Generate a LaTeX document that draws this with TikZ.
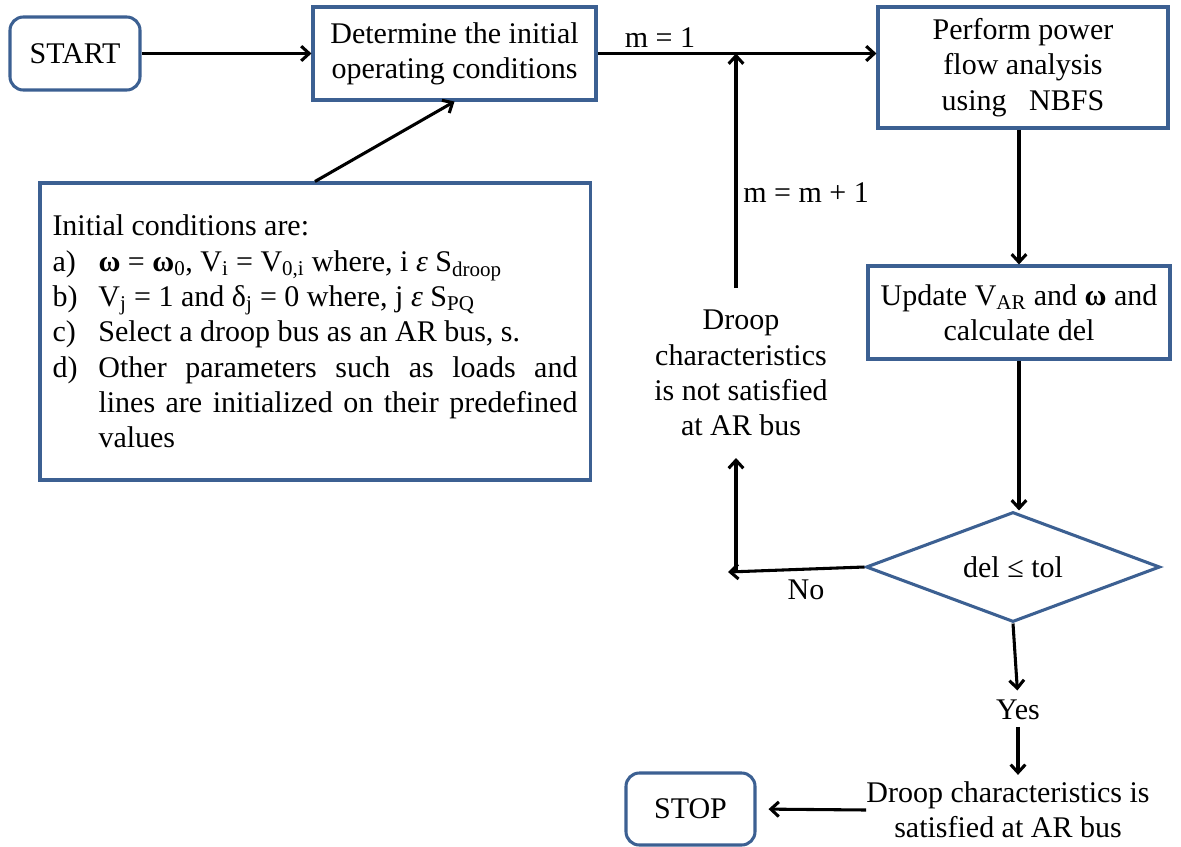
\documentclass[tikz,border=0pt]{standalone}
\usepackage{fontspec}
\setmainfont{Liberation Serif}
\usetikzlibrary{arrows.meta,shapes.geometric}
\definecolor{boxblue}{RGB}{60,96,146}
\newcommand\dfont{\fontsize{22.5}{26.5}\selectfont}
\newlength\itemind
\setlength\itemind{34.5pt}
\newcommand\itemlabel[1]{\hangindent=\itemind\hangafter=1\noindent\makebox[\itemind][l]{#1}}

\begin{document}
\begin{tikzpicture}[x=0.75pt,y=-0.75pt,
  every node/.style={font=\dfont, inner sep=0pt},
  box/.style={draw=boxblue, line width=2.3pt, fill=white, align=center},
  rbox/.style={box, rounded corners=10pt},
  arr/.style={line width=2.3pt, -{Straight Barb[length=6pt,width=11pt]}},
  lbl/.style={align=center}]
\useasboundingbox (0,0) rectangle (1181,846);

% process boxes
\node[rbox, minimum width=97.5pt, minimum height=54.75pt] (start) at (75,53.5) {START};
\node[box, minimum width=212.25pt, minimum height=69.75pt] (det) at (454.5,53.5) {Determine the initial\\operating conditions};
\node[box, minimum width=217.5pt, minimum height=90.75pt] (perf) at (1023,67.5) {Perform power\\flow analysis\\using~~~NBFS};
\node[box, minimum width=226.5pt, minimum height=69.75pt] (upd) at (1019,312.5) {Update V\textsubscript{AR} and \textbf{ω} and\\calculate del};
\node[draw=boxblue, line width=2.3pt, fill=white, diamond, shape aspect=2.67, minimum width=220.5pt, minimum height=82.5pt] (dia) at (1013,567) {del ≤ tol};
\node[rbox, minimum width=96.75pt, minimum height=54pt] (stop) at (690.5,809) {STOP};

% initial conditions
\node[box, text width=393.75pt, inner xsep=9.4pt, minimum height=222.75pt, align=justify] (init) at (315,331.5) {%
\setlength\parindent{0pt}\hyphenpenalty=10000
Initial conditions are:\par
\itemlabel{a)}\textbf{ω} = \textbf{ω}\textsubscript{0}, V\textsubscript{i} = V\textsubscript{0,i} where, i \textit{ε} S\textsubscript{droop}\par
\itemlabel{b)}V\textsubscript{j} = 1 and δ\textsubscript{j} = 0 where, j \textit{ε} S\textsubscript{PQ}\par
\itemlabel{c)}Select a droop bus as an AR bus, s.\par
\itemlabel{d)}Other parameters such as loads and\linebreak lines are initialized on their predefined\linebreak values\par};

% free labels
\node[lbl] (sat) at (1008,810) {Droop characteristics is\\satisfied at AR bus};
\node[lbl] (yes) at (1018,710) {Yes};
\node[lbl] (notsat) at (741,373) {Droop\\characteristics\\is not satisfied\\at AR bus};
\node (m1) at (660,38) {m = 1};
\node[anchor=west] (mm) at (743,193) {m = m + 1};
\node (no) at (806,590) {No};

% loop-back points
\coordinate (jn) at (736,53.5);
\coordinate (jb) at (736,288);
\coordinate (nbend) at (736,572);
\coordinate (nend) at (728,572);
\coordinate (ntop) at (736,458);

% connectors
\draw[arr] (start) -- (det);
\draw[arr] (det.east) -- (det.east -| perf.west);
\draw[arr] (jb) -- (jn);
\draw[arr] (init.north) -- (det.south);
\draw[arr] (upd.north |- perf.south) -- (upd.north);
\draw[arr] (upd.south) -- (upd.south |- dia.north);
\draw[arr] (dia.west) -- (nend);
\draw[arr] (nbend) -- (ntop);
\draw[arr, shorten >=7pt] (dia.south) -- (yes.north);
\draw[arr, shorten <=5pt, shorten >=5pt] (yes.south) -- (yes.south |- sat.north);
\draw[arr, shorten >=9pt] (sat.west) -- (stop.east);
\end{tikzpicture}
\end{document}
